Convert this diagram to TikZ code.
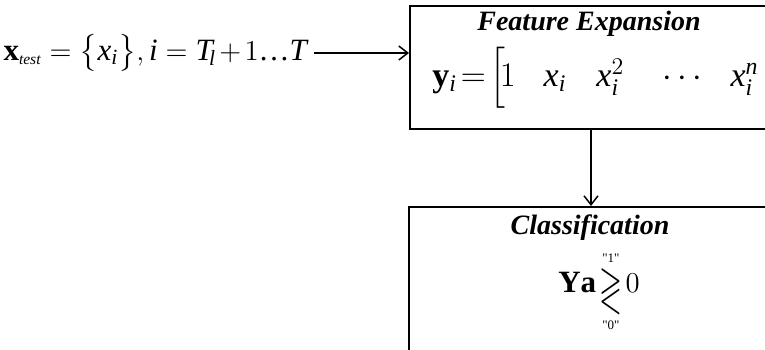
\documentclass[tikz,border=0pt]{standalone}
\usepackage{amsmath}
\usepackage{amssymb}
\usepackage{graphicx}
\usepackage{fontspec}
\setmainfont{Liberation Serif}
\usetikzlibrary{arrows.meta}
% Times-like letters and digits in math
\DeclareSymbolFont{tletters}{TU}{\rmdefault}{m}{it}
\DeclareSymbolFont{tdigits}{TU}{\rmdefault}{m}{n}
\newcount\lettcnt
\lettcnt=65
\loop \Umathcode\lettcnt=7 \symtletters \lettcnt \advance\lettcnt by 1 \ifnum\lettcnt<91 \repeat
\lettcnt=97
\loop \Umathcode\lettcnt=7 \symtletters \lettcnt \advance\lettcnt by 1 \ifnum\lettcnt<123 \repeat
\lettcnt=48
\loop \Umathcode\lettcnt=7 \symtdigits \lettcnt \advance\lettcnt by 1 \ifnum\lettcnt<58 \repeat
\newcommand{\qtag}[1]{\text{\fontsize{6.5}{7}\selectfont\textquotedbl#1\textquotedbl}}

\begin{document}
\begin{tikzpicture}[x=0.5pt, y=-0.5pt,
    font=\fontsize{14}{17}\selectfont,
    box/.style={draw, line width=0.75pt, anchor=north west, inner sep=0pt},
    eqn/.style={font=\fontsize{17}{20}\selectfont},
    flow/.style={-{Straight Barb[length=4.5pt, width=7pt]}, line width=0.75pt}]
    \useasboundingbox (0,0) rectangle (765,349);
    \clip (0,0) rectangle (765,349);
    % the two stages, cut off at the right
    \node[box, minimum width=200pt, minimum height=61.5pt] (featbox) at (409,5) {};
    \node[box, minimum width=200pt, minimum height=100pt] (clsbox) at (408,206) {};
    \node (feattitle) at (589,24) {\textbf{\textit{Feature Expansion}}};
    \node[eqn, anchor=west, inner sep=1.5pt] (feateq) at (429,78)
      {\thickmuskip=2mu$\mathbf{y}_i = \Bigl[\!1\hspace{14pt}x_i\hspace{15pt}x_i^2\hspace{19pt}{\cdots}\hspace{14pt}x_i^n\hspace{6pt}\Bigr]$};
    \node (clstitle) at (590,228) {\textbf{\textit{Classification}}};
    \node[font=\fontsize{15.5}{18}\selectfont] (clseq) at (599,292)
      {$\mathbf{Ya}\!\mathrel{\underset{\qtag{0}}{\overset{\qtag{1}}{\raisebox{-5pt}{\scalebox{0.95}[1.6]{$\gtrless$}}}}}\!0$};
    % test input
    \node[font=\fontsize{15.5}{18}\selectfont, anchor=east] (input) at (314,53)
      {\thickmuskip=5mu\medmuskip=2mu$\mathbf{x}_{\scriptscriptstyle test} = \bigl\{x_i\bigr\}, i = T_{\!l} + 1\text{\textellipsis}T$};
    \draw[flow] (input.east) -- (input.east -| featbox.west);
    \coordinate (drop) at (591,128);
    \draw[flow] (drop) -- (drop |- clsbox.north);
\end{tikzpicture}
\end{document}
